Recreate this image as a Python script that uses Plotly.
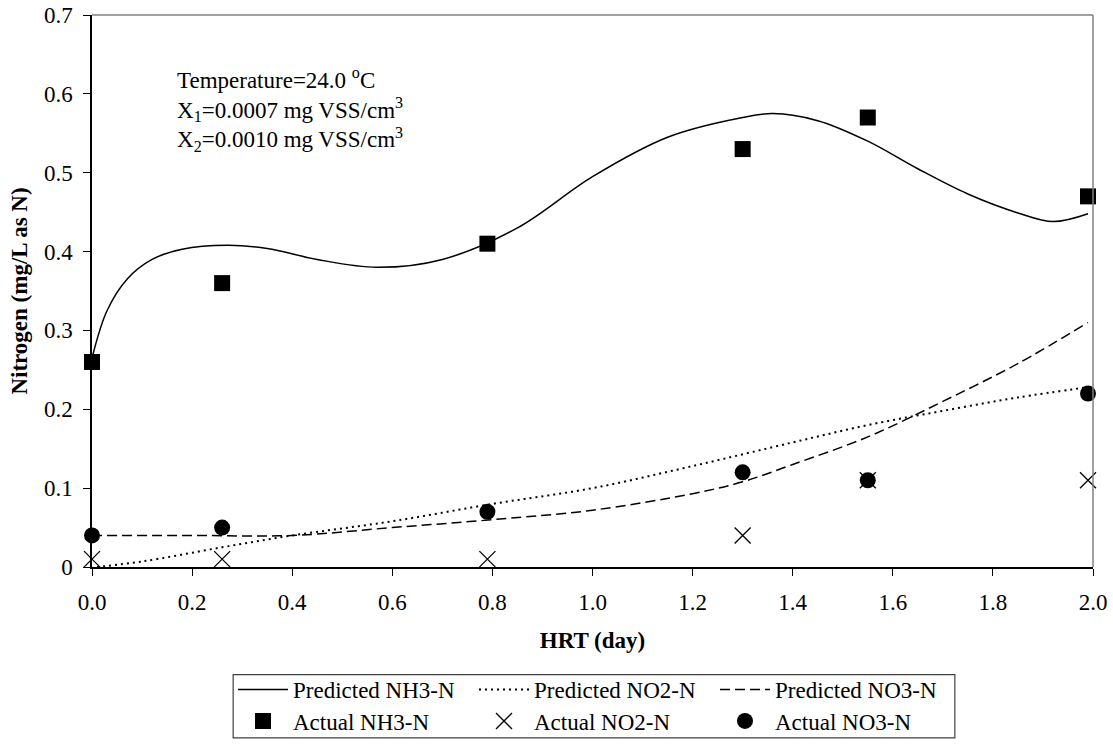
import plotly.graph_objects as go

# Actual data
hrt_actual = [0.0, 0.26, 0.79, 1.30, 1.55, 1.99]
nh3_actual = [0.26, 0.36, 0.41, 0.53, 0.57, 0.47]
no2_actual = [0.01, 0.01, 0.01, 0.04, 0.11, 0.11]
no3_actual = [0.04, 0.05, 0.07, 0.12, 0.11, 0.22]

# Predicted curves
hrt_pred_nh3 = [0.0, 0.03, 0.07, 0.12, 0.18, 0.27, 0.35, 0.45, 0.57, 0.7, 0.85, 1.0,
                1.15, 1.3, 1.36, 1.45, 1.55, 1.65, 1.75, 1.85, 1.92, 1.99]
nh3_pred = [0.265, 0.325, 0.365, 0.39, 0.403, 0.408, 0.404, 0.39, 0.38, 0.39, 0.43, 0.495,
            0.545, 0.57, 0.575, 0.566, 0.54, 0.505, 0.473, 0.449, 0.438, 0.448]

hrt_pred_no2 = [0.01, 0.1, 0.26, 0.4, 0.6, 0.8, 1.0, 1.2, 1.4, 1.55, 1.7, 1.85, 1.99]
no2_pred = [0.0, 0.007, 0.025, 0.04, 0.058, 0.08, 0.1, 0.128, 0.158, 0.18, 0.198, 0.215, 0.228]

hrt_pred_no3 = [0.0, 0.2, 0.4, 0.6, 0.8, 1.0, 1.2, 1.3, 1.4, 1.55, 1.7, 1.85, 1.99]
no3_pred = [0.04, 0.04, 0.04, 0.05, 0.06, 0.072, 0.093, 0.108, 0.13, 0.165, 0.21, 0.258, 0.31]

x_ticks = [0.0, 0.2, 0.4, 0.6, 0.8, 1.0, 1.2, 1.4, 1.6, 1.8, 2.0]
x_ticktext = ["0.0", "0.2", "0.4", "0.6", "0.8", "1.0", "1.2", "1.4", "1.6", "1.8", "2.0"]
y_ticks = [0.0, 0.1, 0.2, 0.3, 0.4, 0.5, 0.6, 0.7]
y_ticktext = ["0", "0.1", "0.2", "0.3", "0.4", "0.5", "0.6", "0.7"]

FONT = "Liberation Serif, Times New Roman, serif"
FS = 23

fig = go.Figure()

fig.add_trace(go.Scatter(x=hrt_pred_nh3, y=nh3_pred, mode="lines", name="Predicted NH3-N",
                         line=dict(color="black", width=1.5, shape="spline", smoothing=1.0),
                         legend="legend"))
fig.add_trace(go.Scatter(x=hrt_pred_no2, y=no2_pred, mode="lines", name="Predicted NO2-N",
                         line=dict(color="black", width=2, dash="2px,4px", shape="spline"),
                         legend="legend"))
fig.add_trace(go.Scatter(x=hrt_pred_no3, y=no3_pred, mode="lines", name="Predicted NO3-N",
                         line=dict(color="black", width=1.5, dash="10px,5px", shape="spline"),
                         legend="legend"))

fig.add_trace(go.Scatter(x=hrt_actual, y=nh3_actual, mode="markers", name="Actual NH3-N",
                         marker=dict(symbol="square", size=16, color="black"),
                         legend="legend2", cliponaxis=False))
fig.add_trace(go.Scatter(x=hrt_actual, y=no2_actual, mode="markers", name="Actual NO2-N",
                         marker=dict(symbol="x-thin", size=16, color="black",
                                     line=dict(color="black", width=1.3)),
                         legend="legend2", cliponaxis=False))
fig.add_trace(go.Scatter(x=hrt_actual, y=no3_actual, mode="markers", name="Actual NO3-N",
                         marker=dict(symbol="circle", size=16, color="black"),
                         legend="legend2", cliponaxis=False))

legend_common = dict(orientation="h", xref="paper", yref="paper", x=0.502, xanchor="center",
                     yanchor="middle", bgcolor="rgba(0,0,0,0)", borderwidth=0,
                     entrywidth=176, itemwidth=50, tracegroupgap=0,
                     font=dict(family=FONT, size=FS, color="black"))

fig.update_layout(
    width=1113, height=755,
    margin=dict(l=92, r=20, t=15, b=181),
    paper_bgcolor="white", plot_bgcolor="white",
    font=dict(family=FONT, size=FS, color="black"),
    showlegend=True,
    legend=dict(legend_common, y=-0.222),
    legend2=dict(legend_common, y=-0.279),
    xaxis=dict(range=[0, 2.0], tickvals=x_ticks, ticktext=x_ticktext, automargin=False,
               showgrid=False, zeroline=False, showline=True, linecolor="black", linewidth=1.5,
               ticks="outside", ticklen=7, tickcolor="black", tickwidth=1.2,
               ticklabelstandoff=7, ticklabeloverflow="allow",
               tickfont=dict(family=FONT, size=FS),
               title=dict(text="<b>HRT (day)</b>", font=dict(family=FONT, size=FS), standoff=18)),
    yaxis=dict(range=[0, 0.7], tickvals=y_ticks, ticktext=y_ticktext, automargin=False,
               showgrid=False, zeroline=False, showline=True, linecolor="black", linewidth=1.5,
               ticks="outside", ticklen=7, tickcolor="black", tickwidth=1.2,
               ticklabelstandoff=6, ticklabeloverflow="allow",
               tickfont=dict(family=FONT, size=FS),
               title=dict(text="<b>Nitrogen (mg/L as N)</b>", font=dict(family=FONT, size=FS),
                          standoff=10)),
    shapes=[
        dict(type="line", xref="x domain", yref="y domain", x0=0, x1=1, y0=1, y1=1,
             line=dict(color="#808080", width=1.5)),
        dict(type="line", xref="x domain", yref="y domain", x0=1, x1=1, y0=0, y1=1,
             line=dict(color="#808080", width=1.5)),
        dict(type="rect", xref="paper", yref="paper", x0=0.141, x1=0.862, y0=-0.3095, y1=-0.195,
             line=dict(color="#404040", width=1.2), fillcolor="rgba(0,0,0,0)"),
    ],
    annotations=[
        dict(xref="x", yref="y", x=0.166, y=0.64, xanchor="left", yanchor="top", showarrow=False,
             align="left", font=dict(family=FONT, size=FS, color="black"),
             text="Temperature=24.0 <sup>o</sup>C<br>X<sub>1</sub>=0.0007 mg VSS/cm<sup>3</sup>"
                  "<br>X<sub>2</sub>=0.0010 mg VSS/cm<sup>3</sup>"),
    ],
)

POST = (
    "document.documentElement.style.margin='0';"
    "document.body.style.margin='0';"
    "document.documentElement.style.overflow='hidden';"
    "document.body.style.overflow='hidden';"
    "var d=document.querySelector('.plotly-graph-div');"
    "if(d){d.style.position='fixed';d.style.top='0px';d.style.left='0px';}"
)

fig.write_html("out.html", config={"displayModeBar": False}, post_script=POST)
